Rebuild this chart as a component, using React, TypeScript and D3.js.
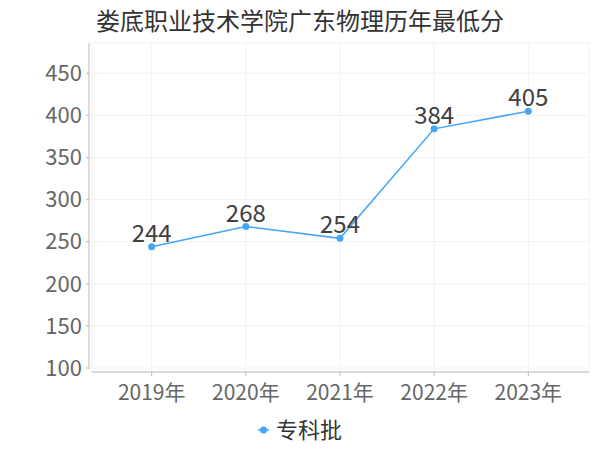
import * as d3 from "d3";

const years = ["2019年", "2020年", "2021年", "2022年", "2023年"];
const scores = [244, 268, 254, 384, 405];
const yTicks = [100, 150, 200, 250, 300, 350, 400, 450];
const seriesName = "专科批";
const title = "娄底职业技术学院广东物理历年最低分";

const W = 600;
const H = 450;
const plot = { left: 92, right: 589, top: 43, bottom: 372 };
const color = "#45a5f8";
const font = "'Noto Sans CJK SC', 'Noto Sans', sans-serif";

const App = () => {
  const x = d3.scalePoint<string>().domain(years).range([151.7, 528.3]);
  const y = d3.scaleLinear().domain([100, 450]).range([368, 73.3]);
  const line = d3
    .line<number>()
    .x((_, i) => x(years[i]) as number)
    .y((d) => y(d));

  return (
    <svg
      width={W}
      height={H}
      style={{ position: "absolute", left: 0, top: 0, background: "#fff" }}
      fontFamily={font}
    >
      <text x={300} y={30} textAnchor="middle" fontSize={24} fill="#333">
        {title}
      </text>

      {/* plot frame + grid */}
      <rect
        x={plot.left}
        y={plot.top}
        width={plot.right - plot.left}
        height={plot.bottom - plot.top}
        fill="none"
        stroke="#f2f2f2"
      />
      {yTicks.map((t) => (
        <line key={t} x1={plot.left} x2={plot.right} y1={y(t)} y2={y(t)} stroke="#f2f2f2" />
      ))}
      {years.map((yr) => (
        <line key={yr} x1={x(yr)} x2={x(yr)} y1={plot.top} y2={plot.bottom} stroke="#f2f2f2" />
      ))}

      {/* y axis */}
      <line x1={89} x2={89} y1={plot.top} y2={369} stroke="#bbb" />
      {yTicks.map((t) => (
        <g key={t}>
          <line x1={86} x2={89} y1={y(t)} y2={y(t)} stroke="#bbb" />
          <text x={82} y={y(t)} dy="0.35em" textAnchor="end" fontSize={22} fill="#666">
            {t}
          </text>
        </g>
      ))}

      {/* x axis */}
      <line x1={plot.left} x2={plot.right} y1={plot.bottom} y2={plot.bottom} stroke="#bbb" />
      {years.map((yr) => (
        <g key={yr}>
          <line x1={x(yr)} x2={x(yr)} y1={plot.bottom} y2={plot.bottom + 4} stroke="#bbb" />
          <text x={x(yr)} y={400} textAnchor="middle" fontSize={21} fill="#666">
            {yr}
          </text>
        </g>
      ))}

      {/* series */}
      <path d={line(scores) ?? ""} fill="none" stroke={color} strokeWidth={1.5} />
      {scores.map((v, i) => (
        <g key={i}>
          <circle cx={x(years[i])} cy={y(v)} r={3.5} fill={color} />
          <text x={x(years[i])} y={y(v) - 5} textAnchor="middle" fontSize={24} fill="#404040">
            {v}
          </text>
        </g>
      ))}

      {/* legend */}
      <line x1={258} x2={269} y1={430} y2={430} stroke={color} strokeWidth={1.5} />
      <circle cx={263.5} cy={430} r={3.5} fill={color} />
      <text x={276} y={430} dy="0.35em" fontSize={22} fill="#333">
        {seriesName}
      </text>
    </svg>
  );
};

export default App;
